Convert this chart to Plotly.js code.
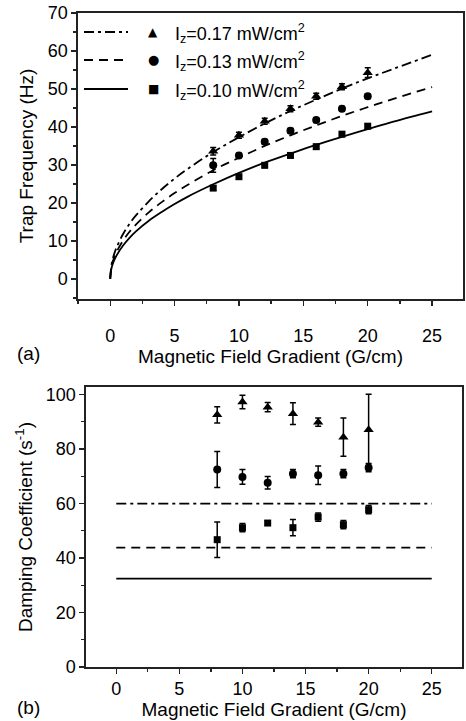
<!DOCTYPE html>
<html>
<head>
<meta charset="utf-8">
<script src="https://cdn.plot.ly/plotly-3.0.1.min.js"></script>
<style>
html,body{margin:0;padding:0;background:#fff;}
#chart{width:466px;height:721px;}
</style>
</head>
<body>
<div id="chart"></div>
<script>
// ---- data ----
const gradX = [8, 10, 12, 14, 16, 18, 20];

// (a) trap frequency (Hz)
const freqHigh = [33.6, 37.8, 41.5, 44.8, 48.1, 50.6, 54.3];
const freqHighErr = [1.0, 0.8, 0.8, 0.8, 0.8, 0.8, 1.3];
const freqMid = [29.9, 32.5, 36.1, 39.0, 41.8, 44.8, 48.1];
const freqMidErr = [1.8, 0.6, 0.6, 0.6, 0.6, 0.6, 0.6];
const freqLow = [23.9, 26.9, 29.9, 32.5, 34.8, 38.1, 40.2];
const freqLowErr = [0.6, 0.6, 0.6, 0.6, 0.6, 0.6, 0.6];

// fitted curves
const curveX = [0, 0.1, 0.25, 0.5, 1, 1.5, 2, 3, 4, 5, 6, 8, 10, 12, 14, 16, 18, 20, 22, 25];
const curveHigh = [0, 3.7, 5.9, 8.3, 11.8, 14.5, 16.7, 20.4, 23.6, 26.4, 28.9, 33.4, 37.3, 40.9, 44.2, 47.2, 50.1, 52.8, 55.3, 59.0];
const curveMid = [0, 3.2, 5.1, 7.1, 10.1, 12.4, 14.3, 17.5, 20.2, 22.6, 24.7, 28.6, 31.9, 35.0, 37.8, 40.4, 42.9, 45.2, 47.4, 50.5];
const curveLow = [0, 2.8, 4.4, 6.2, 8.8, 10.8, 12.5, 15.3, 17.6, 19.7, 21.6, 24.9, 27.9, 30.6, 33.0, 35.3, 37.4, 39.4, 41.4, 44.1];

// (b) damping coefficient (s^-1)
const dampHigh = [92.5, 97.2, 95.3, 92.9, 89.8, 84.3, 87.0];
const dampHighErr = [3.0, 2.5, 1.7, 4.0, 1.5, 7.0, 13.0];
const dampMid = [72.4, 69.7, 67.6, 70.9, 70.3, 70.9, 73.1];
const dampMidErr = [6.6, 2.7, 2.3, 1.5, 3.4, 1.5, 1.5];
const dampLow = [46.7, 51.1, 52.8, 51.1, 55.0, 52.2, 57.7];
const dampLowErr = [6.5, 1.5, 0.8, 3.0, 1.5, 1.5, 1.5];

const levelX = [0, 25];
const levelHigh = [59.9, 59.9];
const levelMid = [43.8, 43.8];
const levelLow = [32.4, 32.4];

const legendLabels = ['I<sub>z</sub>=0.17 mW/cm<sup>2</sup>', 'I<sub>z</sub>=0.13 mW/cm<sup>2</sup>', 'I<sub>z</sub>=0.10 mW/cm<sup>2</sup>'];

// ---- styles ----
const INK = '#000';
const dashHigh = '10px,4px,3px,4px';
const dashMid = '9px,6px';
const FONT = 'Liberation Sans, Arial, sans-serif';

function pts(x, y, err, sym, size, xa, ya) {
  return {
    x: x, y: y, type: 'scatter', mode: 'markers', xaxis: xa, yaxis: ya, showlegend: false,
    marker: {symbol: sym, size: size, color: INK},
    error_y: {type: 'data', array: err, visible: true, color: INK, thickness: 1.5, width: 3}
  };
}
function line(x, y, dash, xa, ya) {
  return {x: x, y: y, type: 'scatter', mode: 'lines', xaxis: xa, yaxis: ya, showlegend: false,
    line: {color: INK, width: 1.8, dash: dash, shape: 'spline'}};
}

const traces = [
  line(curveX, curveHigh, dashHigh, 'x', 'y'),
  line(curveX, curveMid, dashMid, 'x', 'y'),
  line(curveX, curveLow, 'solid', 'x', 'y'),
  pts(gradX, freqHigh, freqHighErr, 'triangle-up', 9, 'x', 'y'),
  pts(gradX, freqMid, freqMidErr, 'circle', 8, 'x', 'y'),
  pts(gradX, freqLow, freqLowErr, 'square', 7, 'x', 'y'),
  line(levelX, levelHigh, dashHigh, 'x2', 'y2'),
  line(levelX, levelMid, dashMid, 'x2', 'y2'),
  line(levelX, levelLow, 'solid', 'x2', 'y2'),
  pts(gradX, dampHigh, dampHighErr, 'triangle-up', 9, 'x2', 'y2'),
  pts(gradX, dampMid, dampMidErr, 'circle', 8, 'x2', 'y2'),
  pts(gradX, dampLow, dampLowErr, 'square', 7, 'x2', 'y2')
];

const W = 466, H = 721;
const tickFont = {family: FONT, size: 18, color: INK};
const titleFont = {family: FONT, size: 19, color: INK};
const axBase = {
  showline: true, linecolor: '#222', linewidth: 1.6, mirror: true,
  ticks: 'outside', ticklen: 5, tickwidth: 1.3, tickcolor: '#222',
  showgrid: false, zeroline: false,
  tickfont: tickFont
};
function ax(extra) { return Object.assign({}, JSON.parse(JSON.stringify(axBase)), extra); }

const layout = {
  width: W, height: H,
  margin: {l: 0, r: 0, t: 0, b: 0},
  paper_bgcolor: '#fff', plot_bgcolor: '#fff',
  font: {family: FONT, color: INK},
  showlegend: false,
  xaxis: ax({domain: [78 / W, 463 / W], anchor: 'y', range: [-2.5, 27.4], tickmode: 'linear', tick0: 0, dtick: 5,
    minor: {dtick: 2.5, ticklen: 3, tickcolor: '#222', ticks: 'outside'}, ticklabelstandoff: 15,
    title: {text: 'Magnetic Field Gradient (G/cm)', standoff: 0, font: titleFont}}),
  yaxis: ax({domain: [(H - 299) / H, (H - 13) / H], anchor: 'x', range: [-5.3, 70], tickmode: 'linear', tick0: 0, dtick: 10,
    minor: {dtick: 5, ticklen: 3, tickcolor: '#222', ticks: 'outside'},
    title: {text: 'Trap Frequency (Hz)', standoff: 9, font: titleFont}}),
  xaxis2: ax({domain: [86 / W, 462 / W], anchor: 'y2', range: [-2.4, 27.4], tickmode: 'linear', tick0: 0, dtick: 5,
    minor: {dtick: 2.5, ticklen: 3, tickcolor: '#222', ticks: 'outside'}, ticklabelstandoff: 0,
    title: {text: 'Magnetic Field Gradient (G/cm)', standoff: 0, font: titleFont}}),
  yaxis2: ax({domain: [(H - 667) / H, (H - 387) / H], anchor: 'x2', range: [0, 102.7], tickmode: 'linear', tick0: 0, dtick: 20,
    minor: {dtick: 10, ticklen: 3, tickcolor: '#222', ticks: 'outside'},
    title: {text: 'Damping Coefficient (s<sup>-1</sup>)', standoff: 8, font: titleFont}}),
  shapes: [],
  annotations: [
    {text: '(a)', xref: 'paper', yref: 'paper', x: 15 / W, y: (H - 353) / H, xanchor: 'left', yanchor: 'middle', showarrow: false, font: titleFont},
    {text: '(b)', xref: 'paper', yref: 'paper', x: 15 / W, y: (H - 707) / H, xanchor: 'left', yanchor: 'middle', showarrow: false, font: titleFont}
  ]
};

// legend drawn inside panel (a)
const legendDash = [dashHigh, dashMid, 'solid'];
const legendSym = ['\u25B2', '\u25CF', '\u25A0'];
const legendSymSize = [12, 13, 12];
const rowY = [32, 60, 89];
for (let i = 0; i < 3; i++) {
  const yp = (H - rowY[i]) / H;
  layout.shapes.push({type: 'line', xref: 'paper', yref: 'paper', x0: 84 / W, x1: 128 / W, y0: yp, y1: yp,
    line: {color: INK, width: 1.8, dash: legendDash[i]}});
  layout.annotations.push({text: legendSym[i], xref: 'paper', yref: 'paper', x: 153 / W, y: yp, xanchor: 'center', yanchor: 'middle',
    showarrow: false, font: {family: 'DejaVu Sans', size: legendSymSize[i], color: INK}});
  layout.annotations.push({text: legendLabels[i], xref: 'paper', yref: 'paper', x: 173 / W, y: yp - 2 / H, xanchor: 'left', yanchor: 'middle',
    showarrow: false, font: tickFont});
}

Plotly.newPlot('chart', traces, layout, {staticPlot: true, displayModeBar: false});
</script>
</body>
</html>
